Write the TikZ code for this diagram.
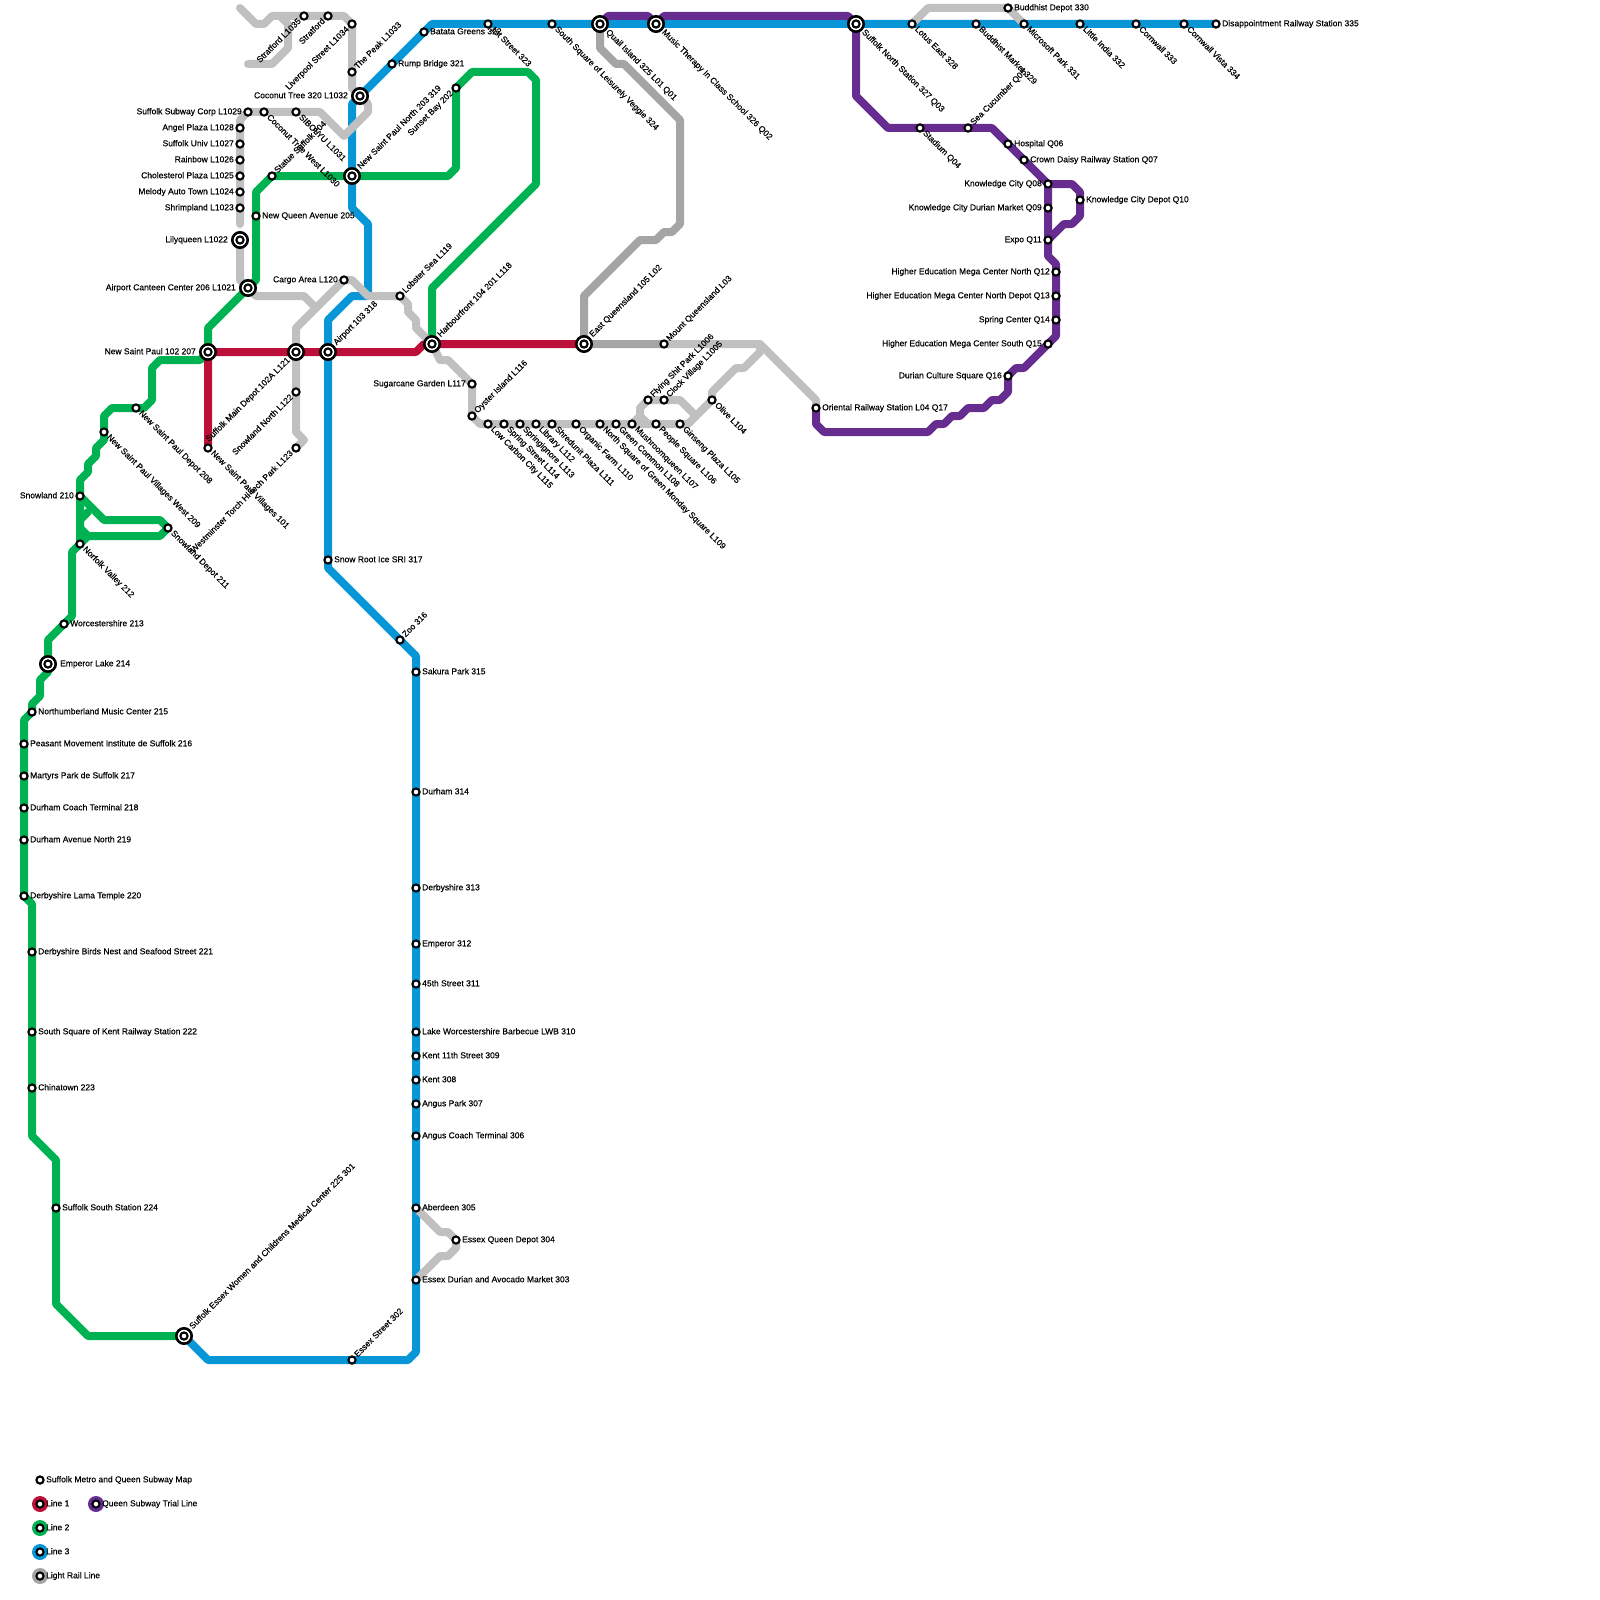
\documentclass[tikz,border=0pt]{standalone}
\usepackage{fontspec}
\setmainfont{Liberation Sans}[RawFeature={embolden=0.3}]
\definecolor{cred}{HTML}{BD1038}
\definecolor{cgreen}{HTML}{00B251}
\definecolor{cblue}{HTML}{0896D7}
\definecolor{cpurple}{HTML}{662C90}
\definecolor{cdark}{HTML}{A5A5A5}
\definecolor{clight}{HTML}{C0C0C0}
\tikzset{
  railline/.style={line width=8pt,line cap=round,line join=round},
  stsmall/.style={circle,draw=black,fill=white,line width=2.1pt,inner sep=0pt,minimum size=7.2pt},
  stbig/.style={circle,draw=black,fill=white,line width=2.6pt,inner sep=0pt,minimum size=15.4pt},
  lab/.style={inner sep=0pt,font=\fontsize{8.5}{10}\selectfont,text height=6pt,text depth=1.5pt,text=black},
  lbR/.style={lab,anchor=west,xshift=6pt},
  lbL/.style={lab,anchor=east,xshift=-6pt},
  lbU/.style={xshift=4pt,yshift=4pt,lab,anchor=west,rotate=45},
  lbD/.style={xshift=4pt,yshift=-4pt,lab,anchor=west,rotate=-45},
  lbB/.style={xshift=-4pt,yshift=-4pt,lab,anchor=east,rotate=45},
  bbR/.style={lab,anchor=west,xshift=12pt},
  bbL/.style={lab,anchor=east,xshift=-12pt},
  bbU/.style={xshift=7pt,yshift=8pt,lab,anchor=west,rotate=45},
  bbD/.style={xshift=7pt,yshift=-7pt,lab,anchor=west,rotate=-45},
  bbB/.style={xshift=-7pt,yshift=-7pt,lab,anchor=east,rotate=45},
}
% first pass: coordinate only / second pass: marker and label
\newcommand\STcoord[5]{\coordinate (#1) at (#2,#3);}
\newcommand\STsmall[5]{\node[stsmall] (#1-s) at (#1) {};\node[lb#4] (#1-t) at (#1) {#5};}
\newcommand\STbig[5]{\node[stbig] (#1-o) at (#1) {};\node[stsmall] (#1-s) at (#1) {};\node[bb#4] (#1-t) at (#1) {#5};}
\newcommand\allstations{%
% line 1
\B{nsp}{208}{352}{L}{New Saint Paul 102 207}%
\B{smd}{296}{352}{B}{Suffolk Main Depot 102A L121}%
\B{apt}{328}{352}{U}{Airport 103 318}%
\B{hbf}{432}{344}{U}{Harbourfront 104 201 L118}%
\B{eqn}{584}{344}{U}{East Queensland 105 L02}%
\S{nspv}{208}{448}{D}{New Saint Paul Villages 101}%
% line 2
\B{ess}{184}{1336}{U}{Suffolk Essex Women and Childrens Medical Center 225 301}%
\S{sss}{56}{1208}{R}{Suffolk South Station 224}%
\S{chn}{32}{1088}{R}{Chinatown 223}%
\S{ssk}{32}{1032}{R}{South Square of Kent Railway Station 222}%
\S{dbn}{32}{952}{R}{Derbyshire Birds Nest and Seafood Street 221}%
\S{dlt}{24}{896}{R}{Derbyshire Lama Temple 220}%
\S{dan}{24}{840}{R}{Durham Avenue North 219}%
\S{dct}{24}{808}{R}{Durham Coach Terminal 218}%
\S{mps}{24}{776}{R}{Martyrs Park de Suffolk 217}%
\S{pmi}{24}{744}{R}{Peasant Movement Institute de Suffolk 216}%
\S{nmc}{32}{712}{R}{Northumberland Music Center 215}%
\B{eml}{48}{664}{R}{Emperor Lake 214}%
\S{wor}{64}{624}{R}{Worcestershire 213}%
\S{nfv}{80}{544}{D}{Norfolk Valley 212}%
\S{snd}{168}{528}{D}{Snowland Depot 211}%
\S{snw}{80}{496}{L}{Snowland 210}%
\S{nvw}{104}{432}{D}{New Saint Paul Villages West 209}%
\S{npd}{136}{408}{D}{New Saint Paul Depot 208}%
\B{act}{248}{288}{L}{Airport Canteen Center 206 L1021}%
\S{nqa}{256}{216}{R}{New Queen Avenue 205}%
\S{sts}{272}{176}{U}{Statue Suffolk 204}%
\B{nsn}{352}{176}{U}{New Saint Paul North 203 319}%
\S{ssb}{456}{88}{B}{Sunset Bay 202}%
% line 3
\S{esx}{352}{1360}{U}{Essex Street 302}%
\S{eda}{416}{1280}{R}{Essex Durian and Avocado Market 303}%
\S{eqd}{456}{1240}{R}{Essex Queen Depot 304}%
\S{abd}{416}{1208}{R}{Aberdeen 305}%
\S{act6}{416}{1136}{R}{Angus Coach Terminal 306}%
\S{agp}{416}{1104}{R}{Angus Park 307}%
\S{knt}{416}{1080}{R}{Kent 308}%
\S{k11}{416}{1056}{R}{Kent 11th Street 309}%
\S{lwb}{416}{1032}{R}{Lake Worcestershire Barbecue LWB 310}%
\S{s45}{416}{984}{R}{45th Street 311}%
\S{emp}{416}{944}{R}{Emperor 312}%
\S{dby}{416}{888}{R}{Derbyshire 313}%
\S{drh}{416}{792}{R}{Durham 314}%
\S{skr}{416}{672}{R}{Sakura Park 315}%
\S{zoo}{400}{640}{U}{Zoo 316}%
\S{srt}{328}{560}{R}{Snow Root Ice SRI 317}%
\B{cct}{360}{96}{L}{Coconut Tree 320 L1032}%
\S{rmp}{392}{64}{R}{Rump Bridge 321}%
\S{bat}{424}{32}{R}{Batata Greens 322}%
\S{fst}{488}{24}{D}{1st Street 323}%
\S{slv}{552}{24}{D}{South Square of Leisurely Veggie 324}%
\B{qil}{600}{24}{D}{Quail Island 325 L01 Q01}%
\B{mtc}{656}{24}{D}{Music Therapy In Class School 326 Q02}%
\B{sns}{856}{24}{D}{Suffolk North Station 327 Q03}%
\S{lte}{912}{24}{D}{Lotus East 328}%
\S{bmk}{976}{24}{D}{Buddhist Market 329}%
\S{bdp}{1008}{8}{R}{Buddhist Depot 330}%
\S{msp}{1024}{24}{D}{Microsoft Park 331}%
\S{lin}{1080}{24}{D}{Little India 332}%
\S{cnw}{1136}{24}{D}{Cornwall 333}%
\S{cnv}{1184}{24}{D}{Cornwall Vista 334}%
\S{dis}{1216}{24}{R}{Disappointment Railway Station 335}%
% queen
\S{std}{920}{128}{D}{Stadium Q04}%
\S{scc}{968}{128}{U}{Sea Cucumber Q05}%
\S{hsp}{1008}{144}{R}{Hospital Q06}%
\S{cdr}{1024}{160}{R}{Crown Daisy Railway Station Q07}%
\S{kc}{1048}{184}{L}{Knowledge City Q08}%
\S{kcd}{1048}{208}{L}{Knowledge City Durian Market Q09}%
\S{kcq}{1080}{200}{R}{Knowledge City Depot Q10}%
\S{exp}{1048}{240}{L}{Expo Q11}%
\S{hen}{1056}{272}{L}{Higher Education Mega Center North Q12}%
\S{hed}{1056}{296}{L}{Higher Education Mega Center North Depot Q13}%
\S{spc}{1056}{320}{L}{Spring Center Q14}%
\S{hes}{1048}{344}{L}{Higher Education Mega Center South Q15}%
\S{dcs}{1008}{376}{L}{Durian Culture Square Q16}%
\S{ors}{816}{408}{R}{Oriental Railway Station L04 Q17}%
% light rail
\S{mqn}{664}{344}{U}{Mount Queensland L03}%
\S{olv}{712}{400}{D}{Olive L104}%
\S{gns}{680}{424}{D}{Ginseng Plaza L105}%
\S{pps}{656}{424}{D}{People Square L106}%
\S{msh}{632}{424}{D}{Mushroomqueen L107}%
\S{grc}{616}{424}{D}{Green Common L108}%
\S{nsg}{600}{424}{D}{North Square of Green Monday Square L109}%
\S{ogf}{576}{424}{D}{Organic Farm L110}%
\S{shp}{552}{424}{D}{Shredunit Plaza L111}%
\S{lib}{536}{424}{D}{Library L112}%
\S{spg}{520}{424}{D}{Springignore L113}%
\S{sps}{504}{424}{D}{Spring Street L114}%
\S{lcc}{488}{424}{D}{Low Carbon City L115}%
\S{oys}{472}{416}{U}{Oyster Island L116}%
\S{sgc}{472}{384}{L}{Sugarcane Garden L117}%
\S{fsp}{648}{400}{U}{Flying Shit Park L1006}%
\S{clv}{664}{400}{U}{Clock Village L1005}%
\S{lob}{400}{296}{U}{Lobster Sea L119}%
\S{cgo}{344}{280}{L}{Cargo Area L120}%
\S{snn}{296}{392}{B}{Snowland North L122}%
\S{wtp}{296}{448}{B}{Westminster Torch Hi-tech Park L123}%
\B{lil}{240}{240}{L}{Lilyqueen L1022}%
\S{shr}{240}{208}{L}{Shrimpland L1023}%
\S{mel}{240}{192}{L}{Melody Auto Town L1024}%
\S{cho}{240}{176}{L}{Cholesterol Plaza L1025}%
\S{rnb}{240}{160}{L}{Rainbow L1026}%
\S{suv}{240}{144}{L}{Suffolk Univ L1027}%
\S{ang}{240}{128}{L}{Angel Plaza L1028}%
\S{ssc}{248}{112}{L}{Suffolk Subway Corp L1029}%
\S{ctw}{264}{112}{D}{Coconut Tree West L1030}%
\S{sib}{296}{112}{D}{SIBOLYU L1031}%
\S{pek}{352}{72}{U}{The Peak L1033}%
\S{lvp}{352}{24}{B}{Liverpool Street L1034}%
\S{stf}{328}{16}{B}{Stratford}%
\S{st5}{304}{16}{B}{Stratford L1035}%
}
\begin{document}
\begin{tikzpicture}[x=1pt,y=-1pt]
\useasboundingbox (0,0) rectangle (1600,1600);
\fill[white] (0,0) rectangle (1600,1600);
\let\S\STcoord \let\B\STcoord
\allstations
% Line 3
\draw[railline,cblue] (ess) -- (208,1360) -- (408,1360) -- (416,1352) -- (eda) -- (abd) -- (skr) -- (416,656) -- (zoo) -- (328,568) -- (srt) -- (apt) -- (328,320) -- (352,296) -- (368,296) -- (368,224) -- (352,208) -- (nsn) -- (352,104) -- (cct) -- (bat) -- (432,24) -- (dis);
% Line 2
\draw[railline,cgreen] (ess) -- (88,1336) -- (56,1304) -- (sss) -- (56,1160) -- (32,1136) -- (32,904) -- (dlt) -- (24,720) -- (nmc) -- (32,704) -- (40,696) -- (40,680) -- (48,672) -- (eml) -- (48,640) -- (72,616) -- (72,552) -- (nfv) -- (snw) -- (80,480) -- (88,472) -- (88,464) -- (96,456) -- (96,448) -- (104,440) -- (nvw) -- (104,416) -- (112,408) -- (144,408) -- (152,400) -- (152,368) -- (160,360) -- (200,360) -- (nsp) -- (208,328) -- (act) -- (256,280) -- (256,192) -- (sts) -- (nsn) -- (448,176) -- (456,168) -- (ssb) -- (472,72) -- (528,72) -- (536,80) -- (536,184) -- (432,288) -- (hbf);
\draw[railline,cgreen] (snw) -- (104,520) -- (160,520) -- (snd) -- (160,536) -- (88,536) -- (80,528);
\draw[railline,cgreen] (80,520) -- (88,512);
\draw[railline,cgreen] (88,536) -- (nfv);
% Queen
\draw[railline,cpurple] (qil) -- (608,16) -- (648,16) -- (mtc) -- (664,16) -- (848,16) -- (sns) -- (856,96) -- (888,128) -- (992,128) -- (kc) -- (exp) -- (1048,256) -- (1056,264) -- (1056,336) -- (hes) -- (1024,368) -- (1016,368) -- (dcs) -- (1008,392) -- (1000,400) -- (992,400) -- (984,408) -- (968,408) -- (960,416) -- (952,416) -- (944,424) -- (936,424) -- (928,432) -- (824,432) -- (816,424) -- (ors);
\draw[railline,cpurple] (kc) -- (1072,184) -- (1080,192) -- (1080,216) -- (1072,224) -- (1064,224) -- (exp);
% Line 1
\draw[railline,cred] (nspv) -- (nsp) -- (416,352) -- (424,344) -- (eqn);
% Dark grey
\draw[railline,cdark] (mqn) -- (eqn) -- (584,296) -- (640,240) -- (656,240) -- (664,232) -- (672,232) -- (680,224) -- (680,120) -- (624,64) -- (616,64) -- (600,48) -- (qil);
% Light grey
\draw[railline,clight] (ors) -- (816,400) -- (760,344) -- (mqn);
\draw[railline,clight] (760,344) -- (760,352) -- (744,368) -- (736,368) -- (712,392) -- (olv) -- (688,424) -- (gns);
\draw[railline,clight] (hbf) -- (440,360) -- (448,360) -- (sgc) -- (oys) -- (480,424) -- (gns);
\draw[railline,clight] (msh) -- (640,416) -- (640,408) -- (fsp) -- (680,400) -- (696,416);
\draw[railline,clight] (640,416) -- (648,424);
\draw[railline,clight] (hbf) -- (416,328) -- (416,320) -- (408,312) -- (408,304) -- (lob) -- (368,296) -- (352,280) -- (cgo) -- (296,328) -- (smd) -- (296,432) -- (304,440) -- (wtp);
\draw[railline,clight] (act) -- (256,296) -- (304,296) -- (316,308);
\draw[railline,clight] (act) -- (240,280) -- (lil);
\draw[railline,clight] (240,224) -- (240,120) -- (ssc) -- (320,112) -- (344,136) -- (368,112) -- (368,104) -- (cct) -- (352,88) -- (lvp) -- (344,16) -- (272,16) -- (264,24) -- (256,24) -- (240,8);
\draw[railline,clight] (280,16) -- (288,24) -- (288,48) -- (272,64) -- (248,64);
\draw[railline,clight] (lte) -- (928,8) -- (bdp) -- (msp);
\draw[railline,clight] (abd) -- (440,1232) -- (448,1232) -- (eqd) -- (456,1248) -- (448,1256) -- (440,1256) -- (eda);
% stations
\let\S\STsmall \let\B\STbig
\allstations
% legend
\node[stsmall] (lg0) at (40,1480) {};
\node[lab,anchor=west] (lg0t) at (46,1480) {Suffolk Metro and Queen Subway Map};
\foreach \nm/\yy/\cc/\tx in {a/1504/cred/Line 1,b/1528/cgreen/Line 2,c/1552/cblue/Line 3,d/1576/cdark/Light Rail Line}{
  \node[circle,fill=\cc,inner sep=0pt,minimum size=16pt] (lg\nm) at (40,\yy) {};
  \node[stsmall] (lg\nm s) at (40,\yy) {};
  \node[lab,anchor=west] (lg\nm t) at (46,\yy) {\tx};
}
\node[circle,fill=cpurple,inner sep=0pt,minimum size=16pt] (lge) at (96,1504) {};
\node[stsmall] (lges) at (96,1504) {};
\node[lab,anchor=west] (lget) at (102,1504) {Queen Subway Trial Line};
\end{tikzpicture}
\end{document}
